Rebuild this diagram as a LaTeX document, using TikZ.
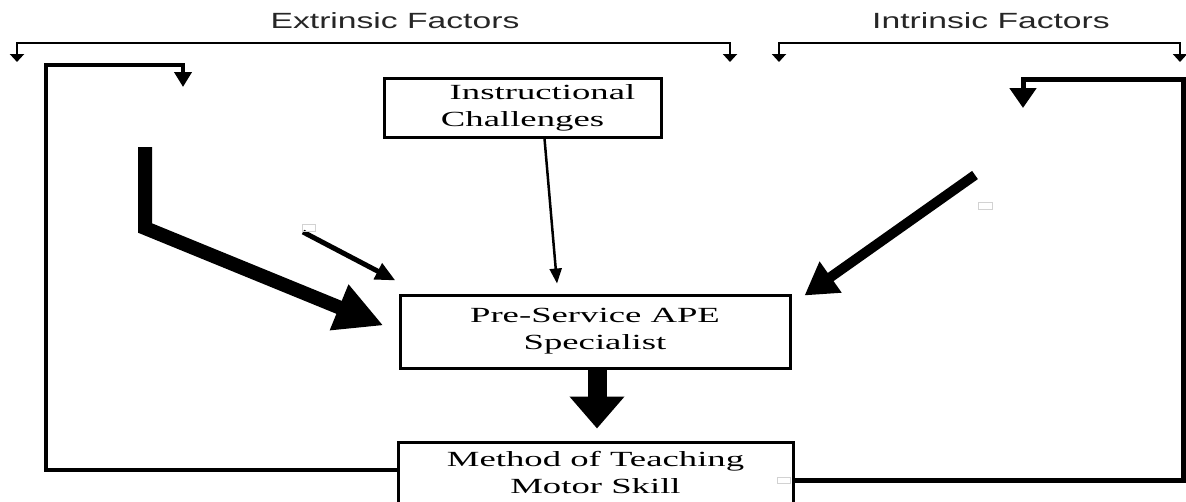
\documentclass[tikz,border=0pt]{standalone}
\usepackage{fontspec}
\setmainfont{Liberation Serif}
\newfontfamily\sansf{Liberation Sans}
\usetikzlibrary{arrows.meta,calc}
\newcommand{\sxs}[1]{\scalebox{1.7}[1]{#1}}
\newcommand{\sxa}[1]{\scalebox{1.53}[1]{#1}}
\begin{document}
\begin{tikzpicture}[x=1pt,y=-1pt,
  box/.style={draw, line width=3pt, rectangle, inner sep=0pt, align=center,
    font=\fontsize{21.6}{27}\selectfont},
  title/.style={font=\sansf\fontsize{22}{26}\selectfont, anchor=base, text=black!85},
  brk/.style={line width=2pt, {Triangle[length=8pt,width=14pt]}-{Triangle[length=8pt,width=14pt]}},
  loopline/.style={line width=4.5pt, line join=miter},
  handle/.style={draw=gray!35, line width=0.8pt}
]
\useasboundingbox (0,0) rectangle (1186,501);

% titles
\node[title] (ef) at (395,28) {\sxa{Extrinsic Factors}};
\node[title] (if) at (991,28) {\sxa{Intrinsic Factors}};

% brackets
\coordinate (eL) at (17,62);
\coordinate (eM) at (400,43);
\coordinate (eR) at (730,62);
\draw[brk] (eL) |- (eM) -| (eR);
\coordinate (iL) at (779,62);
\coordinate (iM) at (980,43);
\coordinate (iR) at (1180,62);
\draw[brk] (iL) |- (iM) -| (iR);

% boxes
\node[box, minimum width=277pt, minimum height=59pt] (ic) at (522.5,107.5)
  {\hspace*{40pt}\sxs{Instructional}\\\sxs{Challenges}};
\node[box, minimum width=390pt, minimum height=73pt] (ps) at (595,331.5)
  {\sxs{Pre-Service APE}\\\sxs{Specialist}};
\node[box, minimum width=395pt, minimum height=61pt] (mt) at (595.5,472.5)
  {\sxs{Method of Teaching}\\\sxs{Motor Skill}};

% instructional -> pre-service
\draw[line width=2.5pt, -{Triangle[length=15pt,width=12pt]}]
  ($(ic.south)+(22,0)$) -- ($(ps.north)+(-38,-10)$);

% pre-service -> method (big arrow)
\draw[line width=19pt, -{Triangle[length=32pt,width=53pt]}]
  ($(ps.south)+(2,0)$) -- ($(mt.north)+(1.5,-12)$);

% left bent thick arrow
\coordinate (lb1) at (145,147);
\coordinate (lb2) at (145,228);
\draw[line width=14pt, line join=miter, -{Triangle[length=48pt,width=46pt]}]
  (lb1) -- (lb2) -- ($(ps.west)+(-15,-6)$);

% small arrow
\coordinate (sa) at (303,232);
\draw[line width=5pt, -{Triangle[length=20pt,width=17pt]}]
  (sa) -- ($(ps.north west)+(-3,-13)$);

% right arrow
\coordinate (ra) at (975,175);
\draw[line width=10pt, -{Triangle[length=32pt,width=36pt]}]
  (ra) -- ($(ps.north east)+(13,2)$);

% left feedback loop
\coordinate (lc) at (46,65);
\coordinate (lt) at (183,87);
\draw[loopline, -{Triangle[length=15pt,width=17pt]}]
  ($(mt.west)+(0,-2.5)$) -| (lc) -| (lt);

% right feedback loop
\coordinate (rc) at (1183,79);
\coordinate (rt) at (1023,108);
\draw[line width=5pt, line join=miter, -{Triangle[length=20pt,width=26pt]}]
  ($(mt.east)+(0,7.5)$) -| (rc) -| (rt);

% small selection handles
\draw[handle] (302,224) rectangle (315,231);
\draw[handle] (978,202) rectangle (992,209);
\draw[handle] (777,477) rectangle (790,483);
\end{tikzpicture}
\end{document}
